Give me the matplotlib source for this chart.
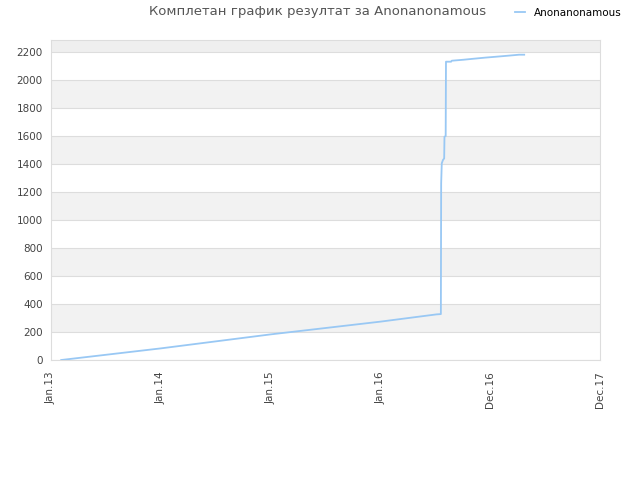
import matplotlib
matplotlib.use("Agg")
import matplotlib.pyplot as plt

# days since 1 Jan 2013, cumulative result
days = [34, 365, 730, 1095, 1282, 1296, 1297, 1299, 1303, 1307, 1308, 1312, 1313,
        1330, 1332, 1371, 1404, 1443, 1482, 1520, 1556, 1573]
values = [0, 83, 183, 274, 326, 328, 1262, 1405, 1429, 1440, 1595, 1600, 2131,
          2131, 2138, 2145, 2152, 2160, 2167, 2174, 2181, 2181]

tick_days = [0, 365, 730, 1095, 1460, 1825]
tick_labels = ["Jan.13", "Jan.14", "Jan.15", "Jan.16", "Dec.16", "Dec.17"]
y_ticks = list(range(0, 2201, 200))
series_name = "Anonanonamous"
title = "Комплетан график резултат за Anonanonamous"

fig = plt.figure(figsize=(6.4, 4.8), dpi=100)
ax = fig.add_axes([51 / 640, 120 / 480, 549 / 640, 320 / 480])

ymax = 2286
# alternating bands
for lo in range(200, 2400, 400):
    ax.axhspan(lo, min(lo + 200, ymax), color="#efefef" if lo >= 2200 else "#f2f2f2",
               zorder=0, lw=0)
for y in y_ticks:
    ax.axhline(y, color="#dddddd", lw=0.8, zorder=1)

ax.plot(days, values, color="#99c8f4", lw=1.3, zorder=3, label=series_name)

ax.set_xlim(0, 1825)
ax.set_ylim(0, ymax)
ax.set_xticks(tick_days)
ax.set_xticklabels(tick_labels, rotation=90, fontsize=7.5, color="#444444")
ax.set_yticks(y_ticks)
ax.set_yticklabels([str(v) for v in y_ticks], fontsize=7.5, color="#444444")
ax.tick_params(length=0, pad=6)
ax.tick_params(axis="x", pad=8)
for s in ax.spines.values():
    s.set_color("#dddddd")
    s.set_linewidth(0.8)

fig.text(318 / 640, 1 - 12 / 480, title, ha="center", va="center", fontsize=9.5,
         color="#555555")
fig.legend(loc="center", bbox_to_anchor=(568 / 640, 1 - 13 / 480), frameon=False,
           fontsize=7.5, handlelength=1.0, handletextpad=0.8)

fig.savefig("out.png", dpi=100)
